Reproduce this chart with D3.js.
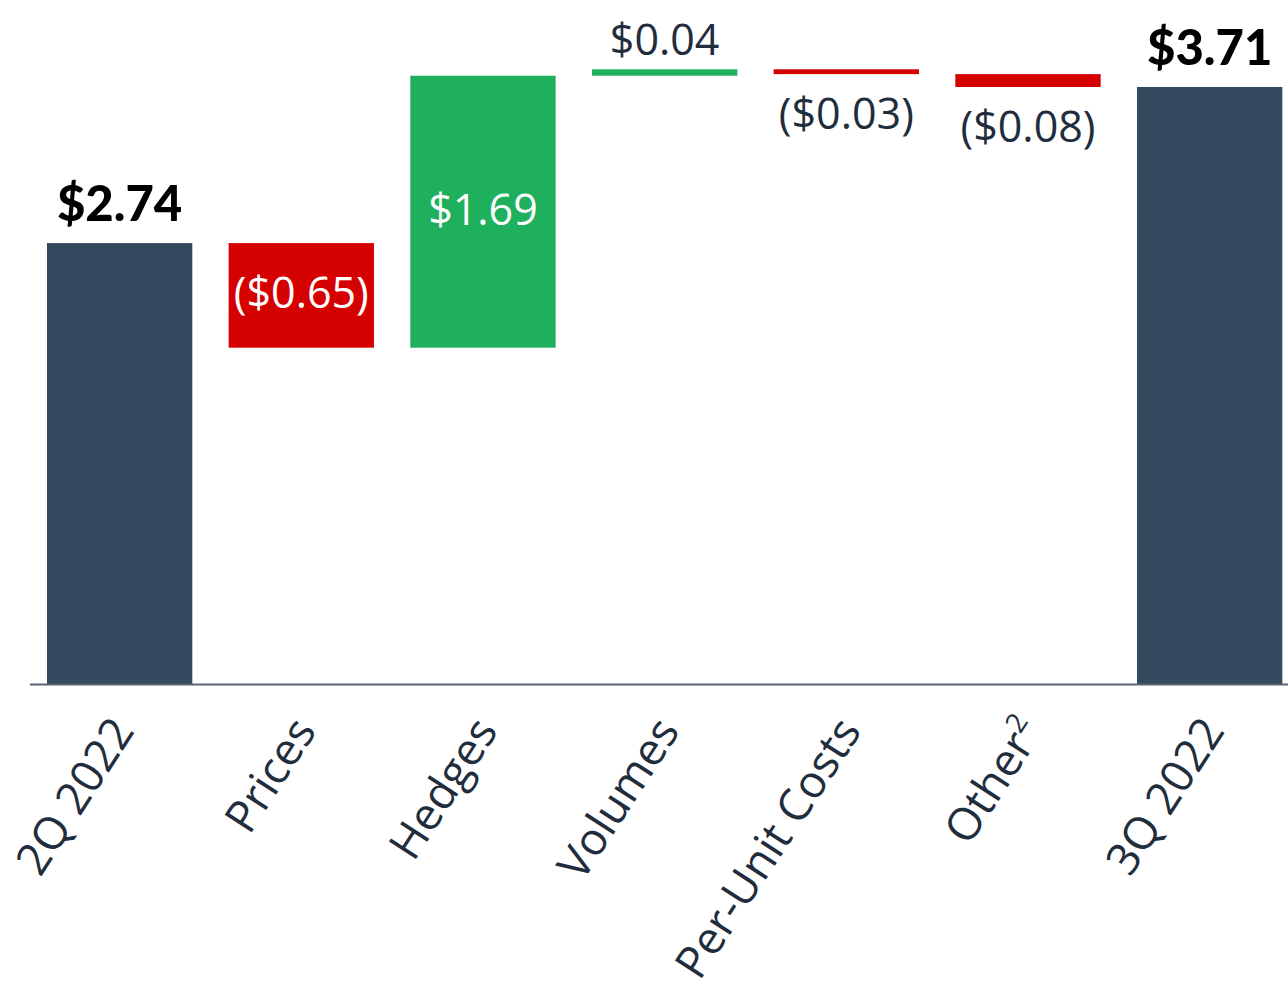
<!DOCTYPE html>
<html><head><meta charset="utf-8">
<script src="https://cdn.jsdelivr.net/npm/d3@7"></script>
<style>body{margin:0;background:#fff}svg{display:block}</style>
</head><body>
<svg id="c" width="1288" height="993"></svg>
<script>
const categories = ["2Q 2022","Prices","Hedges","Volumes","Per-Unit Costs","Other","3Q 2022"];
const superscripts = ["","","","","","2",""];
const values = [2.74,-0.65,1.69,0.04,-0.03,-0.08,3.71];
const kinds = ["total","delta","delta","delta","delta","delta","total"];
const labels = ["$2.74","($0.65)","$1.69","$0.04","($0.03)","($0.08)","$3.71"];
const labelPos = ["above","inside","inside","above","below","below","above"];

const svg = d3.select("#c");
const x = d3.scaleBand().domain(categories).range([28.8,1300.5]).paddingInner(0.2).paddingOuter(0.1);
const y = d3.scaleLinear().domain([0,3.71]).range([684,87]);

let run=0;
const rows = categories.map((c,i)=>{
  let y0,y1;
  if(kinds[i]==="total"){y0=0;y1=values[i];run=values[i];}
  else {y0=run;y1=run+values[i];run=y1;}
  return {c,i,y0,y1,v:values[i],k:kinds[i]};
});
const color = d=> d.k==="total" ? "#34495e" : (d.v<0 ? "#d50000" : "#1eb05c");

svg.selectAll("rect.bar").data(rows).join("rect")
  .attr("class","bar")
  .attr("x",d=>x(d.c)).attr("width",x.bandwidth())
  .attr("y",d=>y(Math.max(d.y0,d.y1)))
  .attr("height",d=>Math.abs(y(d.y0)-y(d.y1)))
  .attr("fill",color);

// axis line
svg.append("line").attr("x1",30).attr("x2",1288).attr("y1",684.5).attr("y2",684.5)
  .attr("stroke","#5a6470").attr("stroke-width",2);

// value labels
svg.selectAll("text.val").data(rows).join("text")
  .attr("class","val")
  .attr("x",d=>x(d.c)+x.bandwidth()/2)
  .attr("y",d=>{
    const top=y(Math.max(d.y0,d.y1)), bot=y(Math.min(d.y0,d.y1));
    const p=labelPos[d.i];
    if(p==="above") return top-(d.k==="total"?22:14);
    if(p==="below") return bot+55;
    return (top+bot)/2+13;
  })
  .attr("text-anchor","middle")
  .attr("font-family", d=>d.k==="total" ? "Lato, 'Open Sans', sans-serif" : "'Open Sans', sans-serif")
  .attr("font-weight",d=>d.k==="total"?"900":"400")
  .attr("font-size",d=>d.k==="total"?49:43)
  .attr("fill",d=>d.k==="total"?"#000":(labelPos[d.i]==="inside"?"#fff":"#1f2d3d"))
  .text(d=>labels[d.i]);

// category labels rotated
const t = svg.append("g").selectAll("text.cat").data(categories).join("text")
  .attr("class","cat")
  .attr("transform",c=>`translate(${x(c)+x.bandwidth()/2+16},${731}) rotate(-57)`)
  .attr("text-anchor","end")
  .attr("font-family","'Open Sans', sans-serif")
  .attr("font-size",45)
  .attr("fill","#1f2d3d");
t.text(c=>c);
t.filter((c,i)=>superscripts[i]).append("tspan")
  .attr("font-size",28).attr("dy",-18)
  .text(c=>superscripts[categories.indexOf(c)]);
</script>
</body></html>
